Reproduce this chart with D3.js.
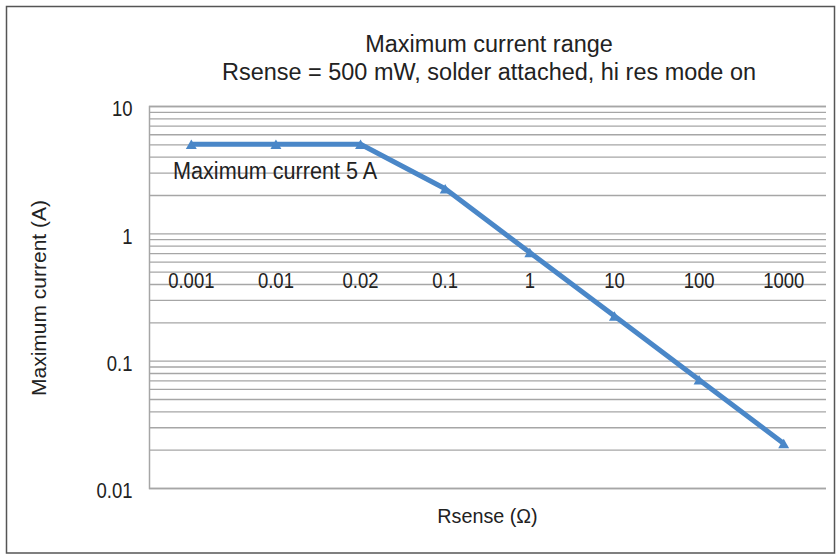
<!DOCTYPE html>
<html>
<head>
<meta charset="utf-8">
<script src="https://cdn.jsdelivr.net/npm/d3@7"></script>
<style>
  body { margin: 0; background: #fff; }
  svg text { fill: #222; font-family: "Liberation Sans", Arial, sans-serif; }
</style>
</head>
<body>
<svg id="chart"></svg>
<script>
// chart data
const categories = ["0.001", "0.01", "0.02", "0.1", "1", "10", "100", "1000"];
const maxCurrent = [5, 5, 5, 2.24, 0.707, 0.224, 0.0707, 0.0224];
const yTickLabels = [0.01, 0.1, 1, 10];
const titleLines = ["Maximum current range", "Rsense = 500 mW, solder attached, hi res mode on"];

// squeeze a text horizontally, the reference uses a condensed face
function condense(sel, k) {
  sel.each(function () {
    const len = this.getComputedTextLength();
    d3.select(this)
      .attr("textLength", len * k)
      .attr("lengthAdjust", "spacingAndGlyphs");
  });
}

document.addEventListener("DOMContentLoaded", () => {
  const width = 836;
  const height = 555;
  const plot = { left: 149, right: 826, top: 106, bottom: 488 };
  const blue = "#4a87c8";

  const svg = d3.select("#chart")
    .attr("width", width)
    .attr("height", height);

  // outer frame
  svg.append("rect")
    .attr("x", 6.5).attr("y", 6.5)
    .attr("width", 828).attr("height", 546.5)
    .attr("fill", "none")
    .attr("stroke", "#555")
    .attr("stroke-width", 1.5);

  // title, two lines
  svg.append("g").selectAll("text")
    .data(titleLines)
    .enter().append("text")
    .attr("x", 489)
    .attr("y", (d, i) => 52 + i * 28)
    .attr("text-anchor", "middle")
    .attr("font-size", 23)
    .text(d => d)
    .call(condense, 1.02);

  // category x scale, log y scale
  const x = d3.scaleBand()
    .domain(categories)
    .range([plot.left, plot.right]);

  const y = d3.scaleLog()
    .domain([0.01, 10])
    .range([plot.bottom, plot.top]);

  // horizontal gridlines on every log tick
  const isLabelled = d => yTickLabels.some(v => Math.abs(v - d) < 1e-12);
  const yAxis = d3.axisLeft(y)
    .tickValues(y.ticks())
    .tickSize(-(plot.right - plot.left))
    .tickPadding(16.5)
    .tickFormat(d => isLabelled(d) ? d3.format("~g")(d) : "");

  const gy = svg.append("g")
    .attr("transform", `translate(${plot.left},0)`)
    .attr("font-family", null)
    .call(yAxis);
  gy.attr("font-family", null);
  gy.select(".domain").attr("stroke", "#a6a6a6").attr("stroke-width", 1.5);
  gy.selectAll(".tick line").attr("stroke", "#a6a6a6").attr("stroke-width", 1.3);
  gy.selectAll(".tick text")
    .attr("font-size", 22)
    .attr("dy", "0.45em")
    .attr("fill", "#222")
    .call(condense, 0.84);

  // category axis crosses at y = 1, labels sit below
  const xAxis = d3.axisBottom(x)
    .tickSize(0)
    .tickPadding(39);

  const gx = svg.append("g")
    .attr("transform", `translate(0,${y(1)})`)
    .call(xAxis);
  gx.attr("font-family", null);
  gx.select(".domain").remove();
  gx.selectAll(".tick text")
    .attr("font-size", 22)
    .attr("fill", "#222")
    .call(condense, 0.84);

  // series line
  const cx = (d, i) => x(categories[i]) + x.bandwidth() / 2;
  const line = d3.line()
    .x(cx)
    .y(d => y(d));

  svg.append("path")
    .datum(maxCurrent)
    .attr("d", line)
    .attr("fill", "none")
    .attr("stroke", blue)
    .attr("stroke-width", 5)
    .attr("stroke-linejoin", "round");

  // triangle markers, box centred on the point
  svg.append("g").selectAll("path")
    .data(maxCurrent)
    .enter().append("path")
    .attr("transform", (d, i) => `translate(${cx(d, i)},${y(d) + 1.6})`)
    .attr("d", d3.symbol().type(d3.symbolTriangle).size(52))
    .attr("fill", blue);

  // annotation
  svg.append("text")
    .attr("x", 173)
    .attr("y", 179)
    .attr("font-size", 23)
    .text("Maximum current 5 A")
    .call(condense, 0.94);

  // axis titles
  svg.append("text")
    .attr("x", 487.5)
    .attr("y", 523)
    .attr("text-anchor", "middle")
    .attr("font-size", 21)
    .text("Rsense (Ω)")
    .call(condense, 0.94);

  svg.append("text")
    .attr("transform", `translate(46,298) rotate(-90)`)
    .attr("text-anchor", "middle")
    .attr("font-size", 21)
    .text("Maximum current (A)");
});
</script>
</body>
</html>
